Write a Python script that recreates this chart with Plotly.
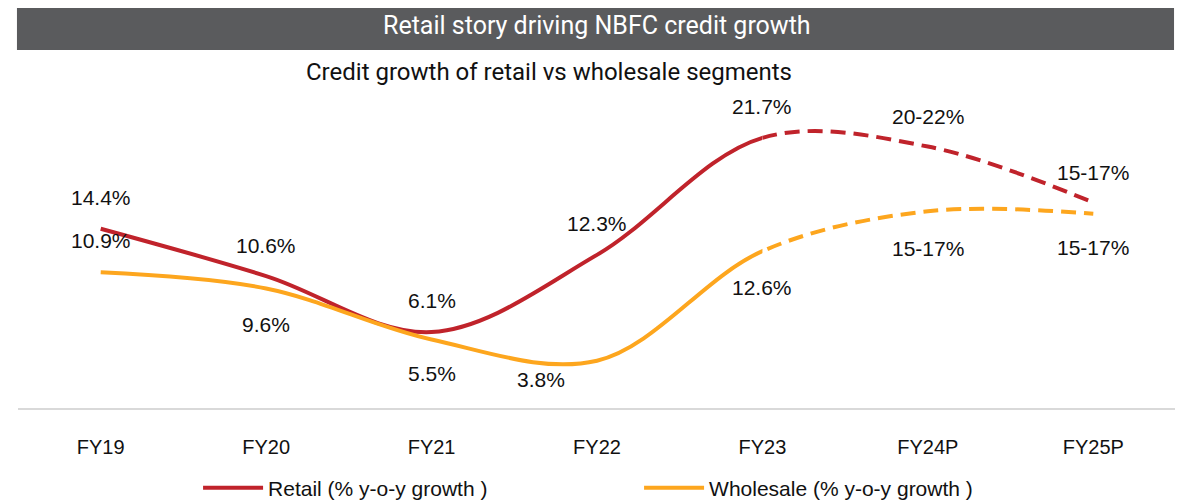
import plotly.graph_objects as go

# ---------------- data ----------------
categories = ["FY19", "FY20", "FY21", "FY22", "FY23", "FY24P", "FY25P"]
retail = [14.4, 10.6, 6.1, 12.3, 21.7, 21.0, 16.5]
wholesale = [10.9, 9.6, 5.5, 3.8, 12.6, 15.8, 15.6]
retail_labels = ["14.4%", "10.6%", "6.1%", "12.3%", "21.7%", "20-22%", "15-17%"]
wholesale_labels = ["10.9%", "9.6%", "5.5%", "3.8%", "12.6%", "15-17%", "15-17%"]
last_actual = 4  # index of FY23: solid up to here, dashed after

# ---------------- style ----------------
RED = "#C0232B"
ORANGE = "#FDA61E"
LABEL_FONT = dict(family="Liberation Sans, Arial, sans-serif", size=21, color="#111111")
retail_label_yshift = [31, 31, 32, 31, 31, 30, 30]
wholesale_label_yshift = [32, -36, -34, -19, -36, -37, -34]
wholesale_label_xshift = [0, 0, 0, -56, 0, 0, 0]

n = len(categories)
xs = list(range(n))
split = (last_actual + 0.5) / n  # domain split so both x axes share the same scale

fig = go.Figure()

series = [
    ("Retail (% y-o-y growth )", retail, RED),
    ("Wholesale (% y-o-y growth )", wholesale, ORANGE),
]
for name, vals, col in series:
    # solid part (clipped to the actual-years subplot)
    fig.add_trace(go.Scatter(
        x=xs, y=vals, mode="lines", name=name, xaxis="x", yaxis="y",
        line=dict(color=col, width=4, shape="spline", smoothing=1),
        hoverinfo="skip", showlegend=True))
    # dashed part (clipped to the projection subplot)
    fig.add_trace(go.Scatter(
        x=xs, y=vals, mode="lines", name=name, xaxis="x2", yaxis="y",
        line=dict(color=col, width=4, shape="spline", smoothing=1, dash="15px,8px"),
        hoverinfo="skip", showlegend=False))

annotations = []
for i in range(n):
    xref = "x" if i <= last_actual else "x2"
    annotations.append(dict(x=xs[i], y=retail[i], xref=xref, yref="y", text=retail_labels[i],
                            showarrow=False, yshift=retail_label_yshift[i], font=LABEL_FONT))
    annotations.append(dict(x=xs[i], y=wholesale[i], xref=xref, yref="y", text=wholesale_labels[i],
                            showarrow=False, yshift=wholesale_label_yshift[i],
                            xshift=wholesale_label_xshift[i], font=LABEL_FONT))

# title bar + subtitle
annotations.append(dict(x=0.5, y=1.2403, xref="paper", yref="paper", text="Retail story driving NBFC credit growth",
                        showarrow=False, font=dict(family="Roboto, sans-serif", size=25, color="white"),
                        xanchor="center", yanchor="middle"))
annotations.append(dict(x=0.4585, y=1.0909, xref="paper", yref="paper", text="Credit growth of retail vs wholesale segments",
                        showarrow=False, font=dict(family="Roboto, sans-serif", size=24, color="#111111"),
                        xanchor="center", yanchor="middle"))

shapes = [dict(type="rect", xref="paper", yref="paper", x0=-0.0009, x1=0.9983, y0=1.1623, y1=1.34,
               fillcolor="#5a5b5d", line=dict(width=0), layer="below")]

axis_common = dict(showgrid=False, zeroline=False, showline=True, linecolor="#d9d9d9", linewidth=2,
                   ticks="outside", ticklen=20, tickcolor="rgba(0,0,0,0)",
                   tickfont=dict(family="Liberation Sans, Arial, sans-serif", size=20, color="#111111"),
                   fixedrange=True)

# page body has an 8px margin, so the figure is sized/margined to compensate
fig.update_layout(
    width=1175, height=495,
    margin=dict(l=10, r=7, t=92, b=95, autoexpand=False),
    paper_bgcolor="white", plot_bgcolor="white",
    xaxis=dict(domain=[0, split], range=[-0.5, last_actual], anchor="y",
               tickmode="array", tickvals=xs[:last_actual + 1], ticktext=categories[:last_actual + 1],
               **axis_common),
    xaxis2=dict(domain=[split, 1], range=[last_actual, n - 0.5], anchor="y",
                tickmode="array", tickvals=xs[last_actual + 1:], ticktext=categories[last_actual + 1:],
                **axis_common),
    yaxis=dict(range=[0, 24.74], visible=False, fixedrange=True),
    showlegend=True,
    legend=dict(orientation="h", x=0.1555, y=-0.26, xanchor="left", yanchor="middle",
                itemwidth=60, entrywidth=366,
                font=dict(family="Liberation Sans, Arial, sans-serif", size=21, color="#111111"),
                bgcolor="rgba(0,0,0,0)"),
    annotations=annotations,
    shapes=shapes,
    hovermode=False,
)

fig.write_html("out.html")
